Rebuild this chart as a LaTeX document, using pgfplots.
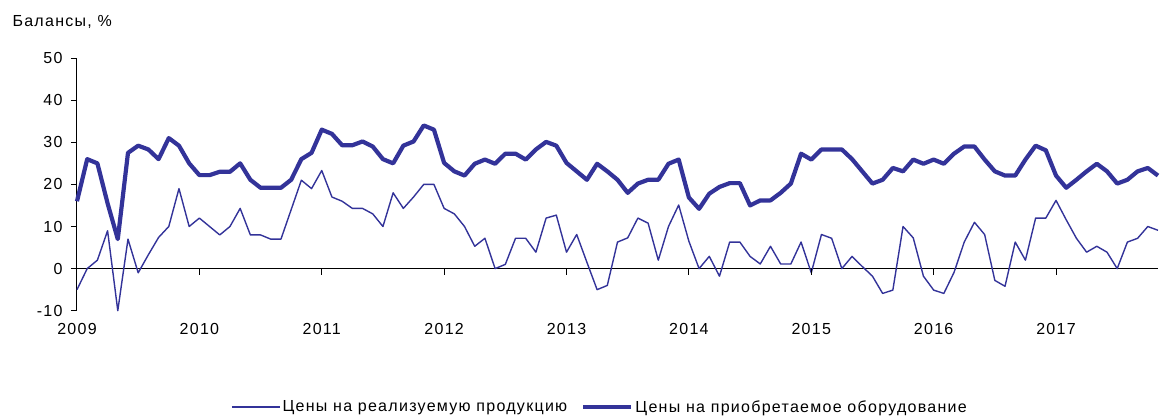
\documentclass[border=0pt]{standalone}
\usepackage{fontspec}
\setmainfont{Liberation Sans}[LetterSpace=8]
\usepackage{pgfplots}
\pgfplotsset{compat=1.18}
\definecolor{navy}{RGB}{51,51,153}
\newcommand{\fs}{\fontsize{16pt}{19pt}\selectfont}

\pgfplotstableread{
k thin thick
0 -5 16
1 0 26
2 2 25
3 9 15.5
4 -10 7
5 7 27.5
6 -1 29.2
7 3.3 28.3
8 7.4 26
9 10 31
10 19 29.2
11 10 25
12 12 22.2
13 10 22.2
14 8 23
15 10 23
16 14.3 25
17 8 21.1
18 8 19.2
19 7 19.2
20 7 19.2
21 14 21.1
22 21 26
23 19 27.5
24 23.3 33
25 17 32
26 16 29.3
27 14.3 29.3
28 14.3 30.2
29 13 29
30 10 26
31 18 25
32 14.3 29.2
33 17 30.2
34 20 34
35 20 33
36 14.3 25.1
37 13 23.1
38 10 22.1
39 5.3 24.9
40 7.2 25.9
41 0 24.9
42 1 27.3
43 7.2 27.3
44 7.2 25.9
45 3.9 28.3
46 12 30.1
47 12.7 29.2
48 3.9 25.1
49 8.1 23.1
50 1.5 21.1
51 -5 24.9
52 -4 23.1
53 6.3 21.1
54 7.3 18
55 12 20.2
56 10.8 21.1
57 2 21.1
58 10 24.9
59 15.1 25.9
60 6.5 16.9
61 0 14.2
62 2.9 17.8
63 -1.8 19.4
64 6.3 20.3
65 6.3 20.3
66 2.9 15
67 1.1 16.2
68 5.3 16.2
69 1.1 18
70 1.1 20.2
71 6.3 27.3
72 -1 25.9
73 8.1 28.3
74 7.2 28.3
75 0 28.3
76 2.9 26
77 0.5 23.1
78 -1.8 20.2
79 -5.9 21.1
80 -5.1 23.9
81 10 23.1
82 7.3 25.9
83 -1.8 24.9
84 -5.1 25.9
85 -5.9 24.9
86 -0.9 27.3
87 6.3 29
88 11 29
89 8.1 25.9
90 -2.8 23.1
91 -4.2 22.1
92 6.3 22.1
93 2 25.9
94 12 29.2
95 12 28.1
96 16.2 22.1
97 11.6 19.2
98 7.2 21.1
99 3.9 23.1
100 5.3 24.9
101 3.9 23.1
102 0 20.2
103 6.3 21.1
104 7.2 23.1
105 10 23.9
106 9.1 22.1
}\balances

\begin{document}
\begin{tikzpicture}
\path[use as bounding box] (-77pt,-107.3pt) rectangle (1083pt,310.7pt);
\begin{axis}[
  at={(0,0)}, anchor=south west,
  scale only axis, width=1081pt, height=252.6pt,
  xmin=0, xmax=106, ymin=-10, ymax=50,
  axis y line*=left, axis x line*=bottom,
  x axis line style={draw=none},
  y axis line style={line width=1pt, black},
  xtick={0,12,...,96},
  xticklabels={2009,2010,2011,2012,2013,2014,2015,2016,2017},
  x tick style={draw=none},
  ytick={-10,0,...,50},
  y tick style={line width=1pt, black},
  tick align=outside, major tick length=6pt,
  /pgf/number format/assume math mode=true,
  tick label style={font=\fs},
  xticklabel style={yshift=-3pt},
  yticklabel style={xshift=-5pt},
  clip=false,
  legend columns=2,
  legend style={at={(0.4838,-0.381)}, anchor=center, draw=none, fill=none,
    font=\fs, /tikz/every even column/.append style={column sep=12pt}},
  legend image code/.code={\draw[#1] (0pt,0pt) -- (48pt,0pt);},
]
\draw[line width=1.4pt, black] (axis cs:0,0) -- (axis cs:106,0);
\addplot[navy, line width=1.4pt, line join=round] table[x=k, y=thin] {\balances};
\addlegendentry{Цены на реализуемую продукцию}
\addplot[navy, line width=4.2pt, line join=round] table[x=k, y=thick] {\balances};
\addlegendentry{Цены на приобретаемое оборудование}
\end{axis}
\foreach \k in {12,24,...,96}
  \draw[line width=1pt] ({\k*10.198pt},42.1pt) -- ++(0,-6pt);
\node[anchor=west, font=\fs] at (-68pt,288.7pt) {Балансы, \%};
\end{tikzpicture}
\end{document}
